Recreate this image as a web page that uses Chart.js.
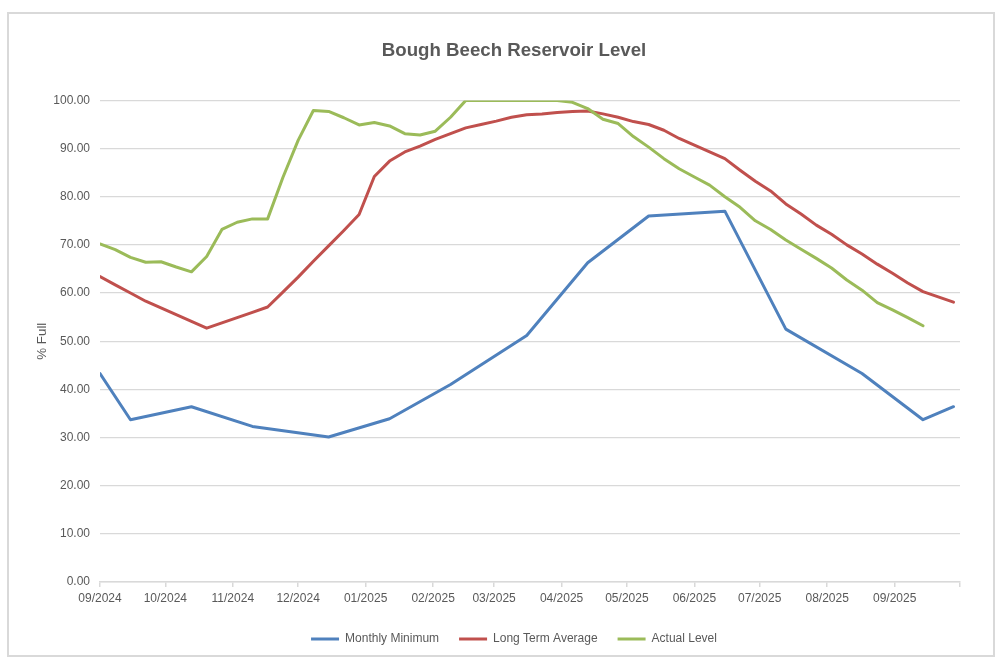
<!DOCTYPE html>
<html>
<head>
<meta charset="utf-8">
<script src="https://cdn.jsdelivr.net/npm/chart.js@4.4.1/dist/chart.umd.min.js"></script>
<style>
html, body { margin: 0; padding: 0; background: #ffffff; }
canvas { display: block; }
</style>
</head>
<body>
<canvas id="c" width="1006" height="667"></canvas>
<script>
// Days since 01/09/2024 at the start of each month (axis ticks)
const monthTickDays = [0, 30, 61, 91, 122, 153, 181, 212, 242, 273, 303, 334, 365, 395];
const monthTickLabels = ['09/2024', '10/2024', '11/2024', '12/2024', '01/2025', '02/2025', '03/2025',
  '04/2025', '05/2025', '06/2025', '07/2025', '08/2025', '09/2025', ''];

// Weekly reading days (days since 01/09/2024)
const weekDays = [0, 7, 14, 21, 28, 35, 42, 49, 56, 63, 70, 77, 84, 91, 98, 105, 112, 119, 126, 133,
  140, 147, 154, 161, 168, 175, 182, 189, 196, 203, 210, 217, 224, 231, 238, 245, 252, 259, 266, 273,
  280, 287, 294, 301, 308, 315, 322, 329, 336, 343, 350, 357, 364, 371, 378, 385, 392];

// Monthly Minimum (only some weeks carry a value)
const minDays = [0, 14, 42, 70, 105, 133, 161, 196, 224, 252, 287, 315, 350, 378, 392];
const minValues = [43.3, 33.7, 36.4, 32.3, 30.1, 33.9, 41.0, 51.2, 66.3, 76.0, 77.0, 52.5, 43.3, 33.7, 36.4];

// Long Term Average (weekly)
const avgValues = [63.4, 61.7, 60.0, 58.3, 56.9, 55.5, 54.1, 52.7, 53.8, 54.9, 56.0, 57.1, 60.2, 63.3,
  66.6, 69.8, 73.0, 76.3, 84.2, 87.4, 89.3, 90.5, 91.9, 93.1, 94.3, 95.0, 95.7, 96.5, 97.0, 97.2,
  97.5, 97.7, 97.8, 97.2, 96.5, 95.6, 95.0, 93.8, 92.1, 90.7, 89.3, 87.9, 85.5, 83.2, 81.2, 78.5,
  76.4, 74.1, 72.2, 70.0, 68.1, 66.0, 64.1, 62.1, 60.3, 59.2, 58.1];

// Actual Level (weekly, ends earlier)
const actualValues = [70.2, 69.0, 67.4, 66.4, 66.5, 65.4, 64.4, 67.6, 73.2, 74.7, 75.4, 75.4, 84.0, 91.7,
  97.9, 97.7, 96.4, 94.9, 95.4, 94.7, 93.1, 92.8, 93.6, 96.5, 100.0, 100.0, 100.0, 100.0, 100.0, 100.0,
  100.0, 99.6, 98.3, 96.1, 95.2, 92.5, 90.3, 87.9, 85.8, 84.1, 82.4, 80.0, 77.8, 75.0, 73.2, 71.0,
  69.1, 67.2, 65.2, 62.7, 60.6, 58.0, 56.5, 54.9, 53.2];

const FONT = "'Liberation Sans', Arial, sans-serif";
const TEXT = '#595959';
const GRID = '#D9D9D9';

const toPoints = (xs, ys) => ys.map((v, i) => ({ x: xs[i], y: v }));

const framePlugin = {
  id: 'frame',
  beforeDraw(chart) {
    const ctx = chart.ctx;
    ctx.save();
    ctx.fillStyle = '#ffffff';
    ctx.fillRect(0, 0, chart.width, chart.height);
    ctx.strokeStyle = GRID;
    ctx.lineWidth = 2;
    ctx.strokeRect(8, 13, 986, 643);
    ctx.restore();
  }
};

new Chart(document.getElementById('c'), {
  type: 'line',
  data: {
    datasets: [
      {
        label: 'Monthly Minimum',
        data: toPoints(minDays, minValues),
        borderColor: '#4F81BD', backgroundColor: '#4F81BD',
        borderWidth: 3, pointRadius: 0, tension: 0, order: 3,
        borderJoinStyle: 'round', borderCapStyle: 'round'
      },
      {
        label: 'Long Term Average',
        data: toPoints(weekDays, avgValues),
        borderColor: '#C0504D', backgroundColor: '#C0504D',
        borderWidth: 3, pointRadius: 0, tension: 0, order: 2,
        borderJoinStyle: 'round', borderCapStyle: 'round'
      },
      {
        label: 'Actual Level',
        data: toPoints(weekDays, actualValues),
        borderColor: '#9BBB59', backgroundColor: '#9BBB59',
        borderWidth: 3, pointRadius: 0, tension: 0, order: 1,
        borderJoinStyle: 'round', borderCapStyle: 'round'
      }
    ]
  },
  options: {
    responsive: false,
    animation: false,
    devicePixelRatio: 1,
    layout: { padding: { left: 22, right: 0, top: 14, bottom: 12 } },
    plugins: {
      title: {
        display: true,
        text: 'Bough Beech Reservoir Level',
        color: TEXT,
        font: { family: FONT, size: 18.67, weight: 'bold' },
        padding: { top: 26, bottom: 38 }
      },
      legend: {
        position: 'bottom',
        labels: {
          boxWidth: 28, boxHeight: 3, padding: 20,
          color: TEXT,
          font: { family: FONT, size: 12 },
          sort: (a, b) => a.datasetIndex - b.datasetIndex,
          generateLabels(chart) {
            const items = Chart.defaults.plugins.legend.labels.generateLabels(chart);
            items.forEach(it => { it.fillStyle = it.strokeStyle; it.lineWidth = 0; });
            return items;
          }
        }
      },
      tooltip: { enabled: false }
    },
    scales: {
      x: {
        type: 'linear',
        min: 0, max: 395,
        afterBuildTicks(scale) { scale.ticks = monthTickDays.map(v => ({ value: v })); },
        afterFit(scale) { scale.height = 31; scale.paddingRight = 46; },
        ticks: {
          autoSkip: false, maxRotation: 0, minRotation: 0, padding: 4,
          color: TEXT, font: { family: FONT, size: 12 },
          callback(v) { const i = monthTickDays.indexOf(v); return i >= 0 ? monthTickLabels[i] : ''; }
        },
        grid: { drawOnChartArea: false, drawTicks: true, tickLength: 5, color: GRID, lineWidth: 1.5 },
        border: { display: true, color: GRID, width: 1.5 }
      },
      y: {
        min: 0, max: 100,
        afterFit(scale) { scale.width = 78; },
        ticks: {
          stepSize: 10, padding: 10,
          color: TEXT, font: { family: FONT, size: 12 },
          callback: v => Number(v).toFixed(2)
        },
        grid: { color: GRID, drawTicks: false, lineWidth: 1.2 },
        border: { display: false },
        title: {
          display: true, text: '% Full', color: TEXT,
          font: { family: FONT, size: 13.33 },
          padding: { top: 12, bottom: 0 }
        }
      }
    }
  },
  plugins: [framePlugin]
});
</script>
</body>
</html>
